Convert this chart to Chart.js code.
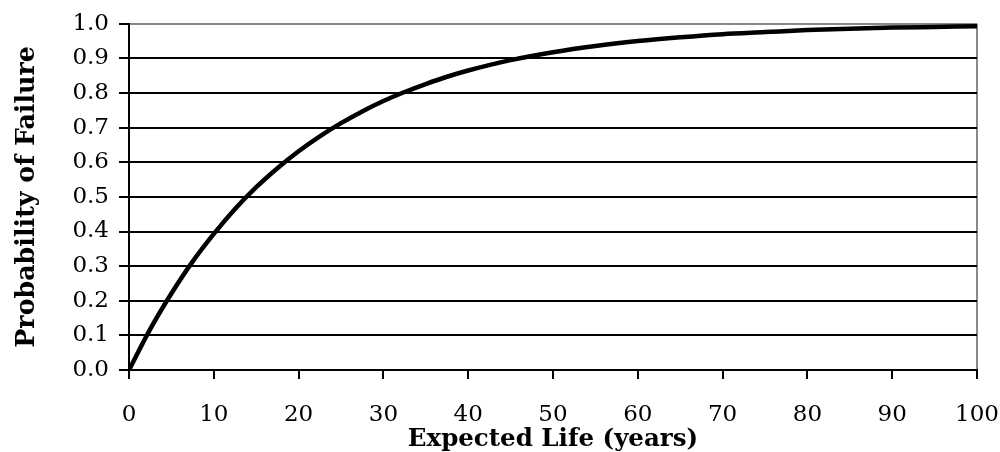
<!DOCTYPE html>
<html>
<head>
<meta charset="utf-8">
<script src="https://cdn.jsdelivr.net/npm/chart.js@4"></script>
<style>
  html, body { margin: 0; padding: 0; background: #fff; }
  #wrap { width: 1000px; height: 452px; }
</style>
</head>
<body>
<div id="wrap"><canvas id="myChart"></canvas></div>
<script>
const ctx = document.getElementById('myChart');

// values
const years = [0, 2.5, 5, 7.5, 10, 12.5, 15, 17.5, 20, 22.5, 25, 27.5, 30, 32.5, 35, 37.5, 40, 45, 50, 55, 60, 65, 70, 75, 80, 85, 90, 95, 100];
const failure = [0, 0.118, 0.221, 0.313, 0.393, 0.465, 0.528, 0.583, 0.632, 0.675, 0.713, 0.747, 0.777, 0.803, 0.826, 0.847, 0.865, 0.895, 0.918, 0.936, 0.95, 0.961, 0.97, 0.976, 0.982, 0.986, 0.989, 0.991, 0.993];
const xTicks = [0, 10, 20, 30, 40, 50, 60, 70, 80, 90, 100];
const yTicks = [0, 0.1, 0.2, 0.3, 0.4, 0.5, 0.6, 0.7, 0.8, 0.9, 1.0];

const points = years.map((x, i) => ({ x: x, y: failure[i] }));
const FONT = 'DejaVu Serif';

new Chart(ctx, {
  type: 'scatter',
  data: {
    datasets: [
      {
        data: points,
        showLine: true,
        borderColor: '#000',
        borderWidth: 4.5,
        pointRadius: 0,
        cubicInterpolationMode: 'monotone',
      },
    ],
  },
  options: {
    responsive: true,
    maintainAspectRatio: false,
    animation: false,
    layout: {
      padding: { left: 0, right: 23, top: 19, bottom: 0 },
    },
    plugins: {
      legend: { display: false },
      tooltip: { enabled: false },
    },
    scales: {
      x: {
        type: 'linear',
        min: 0,
        max: 100,
        afterBuildTicks: axis => {
          axis.ticks = xTicks.map(v => ({ value: v }));
        },
        afterFit: axis => {
          axis.height = 82;
          axis.paddingLeft = 0;
          axis.paddingRight = 0;
        },
        grid: {
          drawOnChartArea: true,
          color: c => (c.tick && c.tick.value === 100 ? '#888' : 'rgba(0,0,0,0)'),
          lineWidth: 2,
          tickColor: '#000',
          tickLength: 9,
        },
        border: { color: '#000', width: 2 },
        ticks: {
          color: '#000',
          font: { family: FONT, size: 23 },
          padding: 22,
          maxRotation: 0,
        },
        title: {
          display: true,
          text: 'Expected Life (years)',
          color: '#000',
          font: { family: FONT, size: 24.5, weight: 'bold', lineHeight: 1.0 },
          padding: 0,
        },
      },
      y: {
        min: 0,
        max: 1,
        afterBuildTicks: axis => {
          axis.ticks = yTicks.map(v => ({ value: v }));
        },
        afterFit: axis => {
          axis.width = 129;
        },
        grid: {
          color: c => (c.tick && c.tick.value === 1 ? '#888' : '#000'),
          lineWidth: 2,
          tickColor: '#000',
          tickLength: 10,
        },
        border: { color: '#000', width: 2 },
        ticks: {
          color: '#000',
          font: { family: FONT, size: 23 },
          padding: 10,
          callback: v => v.toFixed(1),
        },
        title: {
          display: true,
          text: 'Probability of Failure',
          color: '#000',
          font: { family: FONT, size: 25.3, weight: 'bold' },
          padding: { top: 12, bottom: 0 },
        },
      },
    },
  },
});
</script>
</body>
</html>
